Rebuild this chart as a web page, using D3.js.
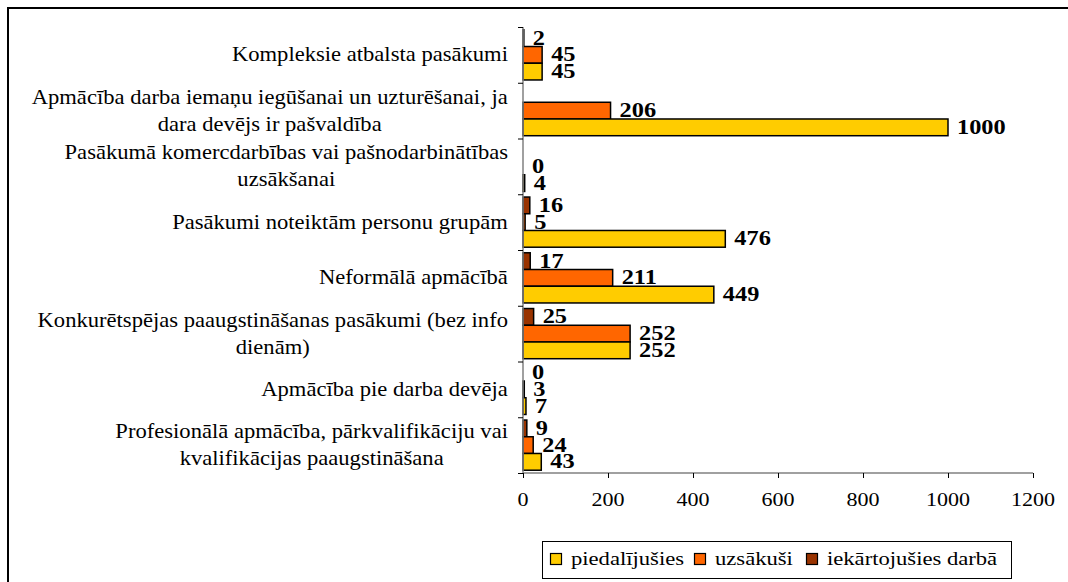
<!DOCTYPE html>
<html><head><meta charset="utf-8">
<script src="https://cdn.jsdelivr.net/npm/d3@7"></script>
<style>html,body{margin:0;padding:0;background:#fff;overflow:hidden}</style>
</head><body>
<svg id="c" width="1068" height="582"></svg>
<script>
const categories = [
  ["Kompleksie atbalsta pasākumi"],
  ["Apmācība darba iemaņu iegūšanai un uzturēšanai, ja", "dara devējs ir pašvaldība"],
  ["Pasākumā komercdarbības vai pašnodarbinātības", "uzsākšanai"],
  ["Pasākumi noteiktām personu grupām"],
  ["Neformālā  apmācībā"],
  ["Konkurētspējas paaugstināšanas pasākumi (bez info", "dienām)"],
  ["Apmācība pie darba devēja"],
  ["Profesionālā apmācība, pārkvalifikāciju vai", "kvalifikācijas paaugstināšana"]
];
const seriesNames = ["iekārtojušies darbā", "uzsākuši", "piedalījušies"];
const iekartojusies = [2, null, null, 16, 17, 25, 0, 9];
const uzsakusi = [45, 206, 0, 5, 211, 252, 3, 24];
const piedalijusies = [45, 1000, 4, 476, 449, 252, 7, 43];
const xTicks = [0, 200, 400, 600, 800, 1000, 1200];
const legendOrder = ["piedalījušies", "uzsākuši", "iekārtojušies darbā"];

const colors = {"piedalījušies": "#FFCC00", "uzsākuši": "#FF6600", "iekārtojušies darbā": "#993300"};
const seriesValues = [iekartojusies, uzsakusi, piedalijusies];
const FONT = "'Liberation Serif','Times New Roman',serif";
const SX = 1.16;
const SXC = 1.13;

const svg = d3.select("#c");
// outer frame
svg.append("rect").attr("x", 8).attr("y", 8).attr("width", 1200).attr("height", 700)
  .attr("fill", "none").attr("stroke", "#000").attr("stroke-width", 2);

const x = d3.scaleLinear().domain([0, 1200]).range([523, 1033]);
const y = d3.scaleBand().domain(d3.range(categories.length)).range([27, 473]).padding(0);
const bw = y.bandwidth();
const ys = d3.scaleBand().domain(seriesNames).range([bw * 0.05, bw * 0.95]).padding(0);

function stext(g, tx, ty, str, size, weight, anchor, sx) {
  return g.append("text")
    .attr("transform", `translate(${tx},${ty}) scale(${sx || SX},1)`)
    .attr("font-family", FONT).attr("font-size", size).attr("font-weight", weight || "normal")
    .attr("text-anchor", anchor || "start").attr("fill", "#000").text(str);
}

// bars
const data = [];
categories.forEach((c, i) => seriesNames.forEach((s, j) => {
  const v = seriesValues[j][i];
  if (v !== null && v !== undefined) data.push({i, s, v});
}));
const gb = svg.append("g");
gb.selectAll("rect").data(data.filter(d => d.v > 0)).join("rect")
  .attr("x", x(0)).attr("y", d => y(d.i) + ys(d.s))
  .attr("width", d => x(d.v) - x(0)).attr("height", ys.bandwidth())
  .attr("fill", d => colors[d.s]).attr("stroke", "#000").attr("stroke-width", 1.5);

// value labels
const gl = svg.append("g");
data.forEach(d => {
  stext(gl, x(d.v) + 9, y(d.i) + ys(d.s) + ys.bandwidth() / 2 + 6.5, String(d.v), 21, "bold");
});

// axes
const gx = svg.append("g").attr("transform", `translate(0,${473})`);
gx.call(d3.axisBottom(x).tickValues(xTicks).tickSize(5).tickFormat(""));
gx.select(".domain").attr("stroke", "#808080").attr("stroke-width", 1.5).attr("d", `M${x(0)},0H${x(1200)}`);
gx.selectAll(".tick line").attr("stroke", "#000").attr("stroke-width", 1);
xTicks.forEach(t => stext(svg, x(t), 506, String(t), 19, "normal", "middle"));

const yb = d3.scaleLinear().domain([0, categories.length]).range([27, 473]);
const gy = svg.append("g").attr("transform", `translate(${x(0)},0)`);
gy.call(d3.axisLeft(yb).tickValues(d3.range(categories.length + 1)).tickSize(5).tickFormat(""));
gy.select(".domain").attr("stroke", "#808080").attr("stroke-width", 1.5).attr("d", `M0,27V473`);
gy.selectAll(".tick line").attr("stroke", "#000").attr("stroke-width", 1);

// category labels
const gc = svg.append("g");
categories.forEach((lines, i) => {
  const cy = y(i) + bw / 2;
  const lh = 27;
  const tmp = lines.map(l => stext(gc, 0, -100, l, 20, "normal", "start", SXC));
  const widths = tmp.map(t => t.node().getBBox().width * SXC);
  tmp.forEach(t => t.remove());
  const maxW = d3.max(widths);
  const cxBlock = 508 - maxW / 2;
  lines.forEach((l, k) => {
    const ly = cy + (k - (lines.length - 1) / 2) * lh + 6.5;
    stext(gc, cxBlock, ly, l, 20, "normal", "middle", SXC);
  });
});

// legend
const lg = svg.append("g");
lg.append("rect").attr("x", 542.5).attr("y", 541.5).attr("width", 469).attr("height", 37)
  .attr("fill", "#fff").attr("stroke", "#000").attr("stroke-width", 1);
const lx = [550, 694, 806];
legendOrder.forEach((s, k) => {
  lg.append("rect").attr("x", lx[k] + 0.5).attr("y", 553.5).attr("width", 11).attr("height", 11)
    .attr("fill", colors[s]).attr("stroke", "#000").attr("stroke-width", 1.2);
  stext(lg, lx[k] + 21, 565, s, 19.5, "normal", "start");
});
</script>
</body></html>
